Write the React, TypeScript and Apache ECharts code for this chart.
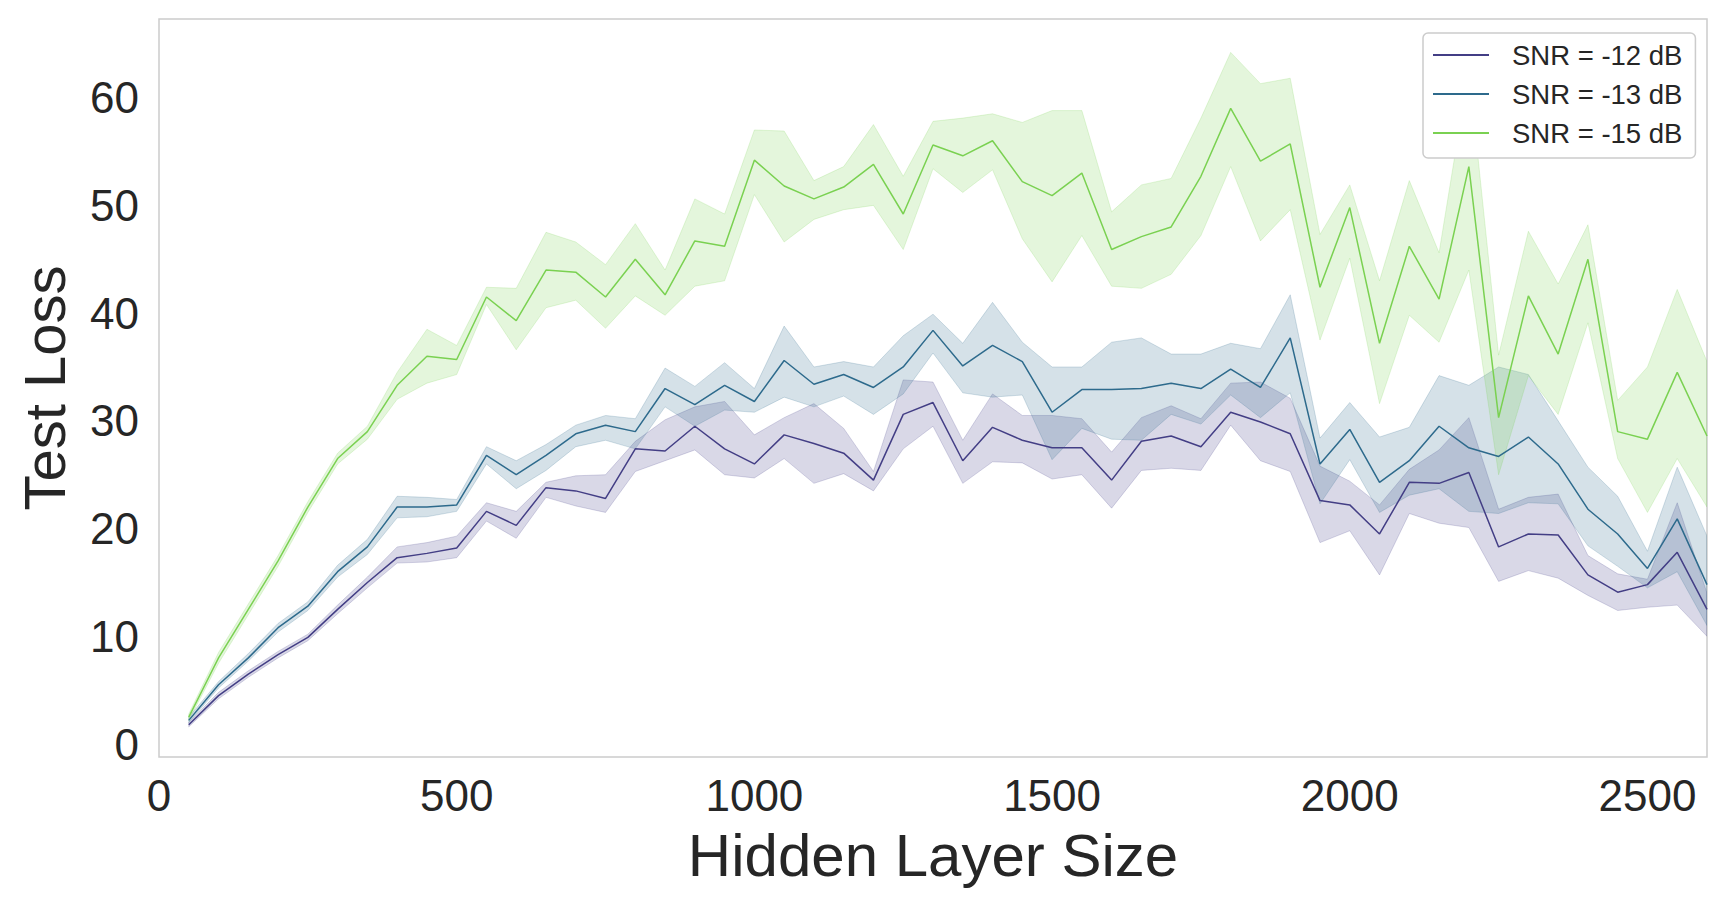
import React, { useEffect, useRef } from "react";
import * as echarts from "echarts";

const hiddenSizes = [
  50, 100, 150, 200, 250, 300, 350, 400, 450, 500, 550, 600, 650, 700, 750, 800, 850, 900, 950, 1000,
  1050, 1100, 1150, 1200, 1250, 1300, 1350, 1400, 1450, 1500, 1550, 1600, 1650, 1700, 1750, 1800,
  1850, 1900, 1950, 2000, 2050, 2100, 2150, 2200, 2250, 2300, 2350, 2400, 2450, 2500, 2550, 2600,
];

const xTicks = [0, 500, 1000, 1500, 2000, 2500];
const yTicks = [0, 10, 20, 30, 40, 50, 60];

const seriesNames = ["SNR = -12 dB", "SNR = -13 dB", "SNR = -15 dB"];
const lineColors = ["#433e85", "#2d6a8c", "#7ad151"];
const bandFills = ["rgba(67,62,133,0.2)", "rgba(45,106,140,0.2)", "rgba(122,209,81,0.2)"];
const bandEdges = ["rgba(67,62,133,0.2)", "rgba(45,106,140,0.2)", "rgba(122,209,81,0.2)"];

// SNR = -12 dB
const snr12Mean = [
  1.8, 4.5, 6.5, 8.3, 9.9, 12.5, 15.0, 17.3, 17.7, 18.2, 21.6, 20.3, 23.8, 23.5, 22.8, 27.4, 27.2, 29.5,
  27.4, 26.0, 28.7, 27.9, 27.0, 24.5, 30.6, 31.7, 26.3, 29.4, 28.2, 27.5, 27.5, 24.5, 28.1, 28.6, 27.6,
  30.8, 29.9, 28.8, 22.6, 22.2, 19.5, 24.3, 24.2, 25.2, 18.3, 19.5, 19.4, 15.7, 14.1, 14.8, 17.8, 12.5,
];
const snr12Upper = [
  2.0, 4.8, 6.8, 8.6, 10.2, 12.9, 15.5, 18.3, 18.7, 19.3, 22.4, 21.6, 24.3, 24.9, 25.0, 28.1, 30.1, 31.3,
  31.8, 28.7, 30.3, 31.6, 29.3, 25.3, 33.8, 33.6, 28.2, 32.5, 30.5, 30.5, 30.2, 27.1, 30.3, 31.4, 30.2,
  33.5, 33.6, 32.1, 25.8, 24.4, 22.2, 25.5, 27.3, 30.3, 21.8, 22.9, 23.2, 17.5, 15.8, 15.3, 22.4, 14.0,
];
const snr12Lower = [
  1.6, 4.2, 6.2, 8.0, 9.6, 12.1, 14.5, 16.8, 16.9, 17.3, 20.7, 19.1, 22.9, 22.1, 21.5, 25.3, 26.3, 27.3,
  25.0, 24.7, 26.5, 24.2, 25.1, 23.5, 27.4, 29.5, 24.2, 26.2, 26.1, 24.6, 25.0, 21.9, 25.4, 25.6, 25.4,
  29.6, 26.3, 25.3, 18.7, 19.8, 15.7, 21.4, 20.5, 20.1, 15.1, 16.1, 15.4, 13.8, 12.4, 12.7, 12.9, 10.0,
];

// SNR = -13 dB
const snr13Mean = [
  2.2, 5.5, 8.0, 10.8, 12.8, 16.0, 18.3, 22.0, 22.0, 22.2, 26.8, 25.0, 26.8, 28.8, 29.6, 29.0, 33.0, 31.5,
  33.3, 31.8, 35.6, 33.4, 34.3, 33.1, 35.0, 38.4, 35.1, 37.0, 35.5, 30.8, 32.9, 32.9, 33.0, 33.5, 33.0,
  34.8, 33.1, 37.7, 26.0, 29.2, 24.3, 26.3, 29.5, 27.5, 26.7, 28.5, 26.0, 21.8, 19.5, 16.3, 20.9, 14.8,
];
const snr13Upper = [
  2.5, 5.8, 8.4, 11.2, 13.2, 16.6, 19.0, 23.0, 22.9, 22.7, 27.6, 26.3, 27.8, 29.6, 30.5, 30.2, 34.9, 33.2,
  35.4, 33.0, 38.8, 35.0, 35.5, 35.0, 37.9, 39.9, 37.2, 41.0, 37.3, 35.0, 35.0, 37.3, 37.7, 36.2, 36.2,
  37.2, 36.7, 41.7, 28.4, 31.7, 28.5, 29.4, 34.2, 33.3, 35.0, 34.3, 30.0, 25.7, 23.0, 17.9, 25.7, 19.3,
];
const snr13Lower = [
  2.0, 5.2, 7.7, 10.4, 12.4, 15.5, 17.6, 21.0, 21.1, 21.6, 26.0, 23.7, 25.4, 27.6, 28.2, 27.4, 31.3, 29.5,
  31.0, 30.8, 32.2, 31.3, 32.3, 30.6, 32.5, 36.3, 32.6, 32.2, 32.4, 26.4, 29.3, 28.3, 28.2, 30.6, 29.7,
  32.4, 30.3, 32.6, 22.3, 26.4, 21.5, 23.1, 23.7, 21.6, 21.4, 22.4, 22.3, 18.4, 16.5, 14.5, 16.0, 11.0,
];

// SNR = -15 dB
const snr15Mean = [
  2.5, 8.0, 12.5, 17.0, 22.0, 26.5, 29.0, 33.3, 36.0, 35.7, 41.5, 39.3, 44.0, 43.8, 41.5, 45.0, 41.7, 46.7,
  46.2, 54.2, 51.8, 50.6, 51.7, 53.8, 49.2, 55.6, 54.6, 56.0, 52.2, 50.9, 53.0, 45.9, 47.1, 48.0, 52.7,
  59.0, 54.1, 55.7, 42.4, 49.8, 37.2, 46.2, 41.3, 53.6, 30.3, 41.6, 36.2, 45.0, 29.0, 28.3, 34.5, 28.6,
];
const snr15Upper = [
  2.8, 8.5, 13.0, 17.5, 22.5, 27.0, 29.5, 34.5, 38.5, 37.0, 42.4, 42.3, 47.5, 46.6, 44.5, 48.3, 44.0, 50.6,
  49.2, 57.0, 56.9, 52.3, 53.6, 57.5, 52.7, 57.8, 58.1, 58.5, 57.7, 58.8, 58.8, 49.4, 51.9, 52.5, 58.1,
  64.2, 61.3, 61.8, 47.3, 51.9, 43.0, 52.3, 45.6, 62.6, 36.1, 47.6, 42.7, 48.2, 31.9, 35.0, 42.2, 35.5,
];
const snr15Lower = [
  2.2, 7.5, 12.0, 16.5, 21.5, 26.0, 28.3, 32.0, 33.5, 34.3, 40.8, 36.6, 40.5, 41.2, 38.6, 41.6, 39.8, 42.5,
  43.0, 51.0, 46.6, 48.7, 49.6, 50.0, 45.9, 53.4, 51.2, 53.3, 46.9, 42.9, 47.2, 42.5, 42.3, 43.6, 47.2,
  53.6, 46.7, 49.6, 37.5, 45.1, 31.6, 39.8, 37.3, 44.0, 25.0, 34.2, 30.6, 39.1, 26.5, 21.5, 26.5, 22.0,
];

const means = [snr12Mean, snr13Mean, snr15Mean];
const uppers = [snr12Upper, snr13Upper, snr15Upper];
const lowers = [snr12Lower, snr13Lower, snr15Lower];

const FONT = "'Liberation Sans', Arial, Helvetica, sans-serif";
const TEXT = "#262626";

function toPairs(ys: number[]) {
  return hiddenSizes.map((x, i) => [x, ys[i]]);
}

export default function App() {
  const ref = useRef<HTMLDivElement>(null);

  useEffect(() => {
    if (!ref.current) return;
    const chart = echarts.init(ref.current, undefined, { renderer: "svg" });

    const bandSeries = seriesNames.map((name, k) => ({
      name: `band-${k}`,
      type: "custom",
      silent: true,
      z: 2,
      data: hiddenSizes.map((x, i) => [x, lowers[k][i], uppers[k][i]]),
      encode: { x: 0, y: [1, 2] },
      renderItem: (params: any, api: any) => {
        if (params.dataIndex !== 0) return null;
        const top = hiddenSizes.map((x, i) => api.coord([x, uppers[k][i]]));
        const bottom = hiddenSizes.map((x, i) => api.coord([x, lowers[k][i]])).reverse();
        const cs = params.coordSys;
        return {
          type: "polygon",
          shape: { points: [...top, ...bottom] },
          style: { fill: bandFills[k], stroke: bandEdges[k], lineWidth: 1 },
          clipPath: {
            type: "rect",
            shape: { x: cs.x, y: cs.y, width: cs.width, height: cs.height },
          },
        };
      },
    }));

    const lineSeries = seriesNames.map((name, k) => ({
      name,
      type: "line",
      data: toPairs(means[k]),
      symbol: "none",
      silent: true,
      lineStyle: { color: lineColors[k], width: 1.5 },
      itemStyle: { color: lineColors[k] },
      z: 3,
    }));

    chart.setOption({
      animation: false,
      backgroundColor: "#ffffff",
      grid: {
        left: 159,
        right: 21,
        top: 19,
        bottom: 151,
        show: true,
        borderColor: "#cccccc",
        borderWidth: 1.5,
        backgroundColor: "transparent",
        containLabel: false,
      },
      legend: {
        data: seriesNames.map((n) => ({ name: n })),
        orient: "vertical",
        left: 1423,
        top: 33,
        icon: "rect",
        itemWidth: 56,
        itemHeight: 2,
        itemGap: 9,
        backgroundColor: "#ffffff",
        borderColor: "#cccccc",
        borderWidth: 1.5,
        borderRadius: 5,
        padding: [7, 13, 10, 10],
        textStyle: {
          fontSize: 27.5,
          color: TEXT,
          fontFamily: FONT,
          lineHeight: 30,
          padding: [0, 0, 0, 18],
        },
        selectedMode: false,
        z: 10,
      },
      xAxis: {
        type: "value",
        min: 0,
        max: 2600,
        axisLine: { show: false },
        axisTick: { show: false },
        splitLine: { show: false },
        axisLabel: {
          customValues: xTicks,
          formatter: (v: number) => String(v),
          fontSize: 44,
          color: TEXT,
          fontFamily: FONT,
          margin: 16,
        },
        name: "Hidden Layer Size",
        nameLocation: "middle",
        nameGap: 68,
        nameTextStyle: { fontSize: 60, color: TEXT, fontFamily: FONT },
      },
      yAxis: {
        type: "value",
        min: -1.2,
        max: 67.3,
        axisLine: { show: false },
        axisTick: { show: false },
        splitLine: { show: false },
        axisLabel: {
          customValues: yTicks,
          formatter: (v: number) => String(v),
          fontSize: 44,
          color: TEXT,
          fontFamily: FONT,
          margin: 20,
        },
        name: "Test Loss",
        nameLocation: "middle",
        nameGap: 86,
        nameTextStyle: { fontSize: 58, color: TEXT, fontFamily: FONT },
      },
      series: [...bandSeries, ...lineSeries],
    });

    return () => {
      chart.dispose();
    };
  }, []);

  return (
    <div
      ref={ref}
      style={{ position: "fixed", left: 0, top: 0, width: 1728, height: 908, background: "#fff" }}
    />
  );
}
